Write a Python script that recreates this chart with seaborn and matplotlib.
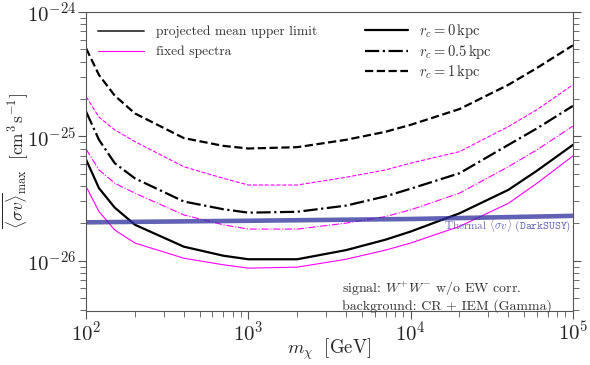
import numpy as np
import pandas as pd
import matplotlib
matplotlib.use('Agg')
import matplotlib.pyplot as plt
import seaborn as sns
from matplotlib.lines import Line2D

# Values
mass = [100, 120, 150, 200, 400, 700, 1000, 2000, 4000, 7000, 10000, 20000, 40000, 60000, 100000]

limit_rc0 = [6.5e-26, 3.84e-26, 2.68e-26, 1.95e-26, 1.30e-26, 1.10e-26, 1.03e-26,
             1.03e-26, 1.22e-26, 1.48e-26, 1.72e-26, 2.41e-26, 3.72e-26, 5.3e-26, 8.55e-26]
limit_rc05 = [1.58e-25, 9.4e-26, 6.1e-26, 4.6e-26, 3.0e-26, 2.6e-26, 2.44e-26,
              2.48e-26, 2.78e-26, 3.3e-26, 3.8e-26, 5.06e-26, 8.55e-26, 1.16e-25, 1.76e-25]
limit_rc1 = [5.1e-25, 3.12e-25, 2.13e-25, 1.53e-25, 9.7e-26, 8.4e-26, 8.0e-26,
             8.2e-26, 9.4e-26, 1.09e-25, 1.24e-25, 1.66e-25, 2.6e-25, 3.55e-25, 5.4e-25]

fixed_rc0 = [3.95e-26, 2.49e-26, 1.77e-26, 1.39e-26, 1.05e-26, 9.3e-27, 8.74e-27,
             8.9e-27, 1.03e-26, 1.22e-26, 1.39e-26, 1.89e-26, 2.9e-26, 4.2e-26, 6.97e-26]
fixed_rc05 = [7.9e-26, 5.38e-26, 4.21e-26, 3.5e-26, 2.34e-26, 1.95e-26, 1.8e-26,
              1.8e-26, 2.01e-26, 2.27e-26, 2.57e-26, 3.5e-26, 5.71e-26, 7.8e-26, 1.21e-25]
fixed_rc1 = [2.09e-25, 1.43e-25, 1.13e-25, 9.08e-26, 5.71e-26, 4.61e-26, 4.07e-26,
             4.07e-26, 4.7e-26, 5.38e-26, 6.1e-26, 7.55e-26, 1.2e-25, 1.64e-25, 2.6e-25]

thermal_mass = [1e2, 1e3, 1e4, 1e5]
thermal_sv = [2.04e-26, 2.1e-26, 2.17e-26, 2.3e-26]

x_ticks = [1e2, 1e3, 1e4, 1e5]
y_ticks = [1e-26, 1e-25, 1e-24]

rc_labels = [r'$r_c = 0\,\mathrm{kpc}$', r'$r_c = 0.5\,\mathrm{kpc}$', r'$r_c = 1\,\mathrm{kpc}$']

sns.set_style('white')
plt.rcParams['font.family'] = 'serif'
plt.rcParams['font.serif'] = ['cmr10', 'DejaVu Serif']
plt.rcParams['mathtext.fontset'] = 'cm'
plt.rcParams['axes.formatter.use_mathtext'] = True
plt.rcParams['text.color'] = '#333333'

fig = plt.figure(figsize=(5.9, 3.65), dpi=100)
ax = fig.add_axes([0.146, 0.149, 0.825, 0.818])

styles = ['-', '-.', '--']
limits = [limit_rc0, limit_rc05, limit_rc1]
fixed = [fixed_rc0, fixed_rc05, fixed_rc1]

for ls, lim, fx in zip(styles, limits, fixed):
    df = pd.DataFrame({'mass': mass, 'limit': lim, 'fixed': fx})
    sns.lineplot(data=df, x='mass', y='fixed', ax=ax, color='magenta',
                 linestyle=ls, linewidth=0.8)
    sns.lineplot(data=df, x='mass', y='limit', ax=ax, color='black',
                 linestyle=ls, linewidth=1.6)

th = pd.DataFrame({'mass': thermal_mass, 'sv': thermal_sv})
sns.lineplot(data=th, x='mass', y='sv', ax=ax, color='#2e2e9c', alpha=0.75, linewidth=3.3)
ax.text(9.8e4, 1.95e-26, r'Thermal $\langle\sigma v\rangle$ $(\mathtt{DarkSUSY})$',
        ha='right', va='center', fontsize=8, color='#6464b8')

ax.set_xscale('log')
ax.set_yscale('log')
ax.set_xticks(x_ticks)
ax.set_yticks(y_ticks)
ax.set_xlim(1e2, 1e5)
ax.set_ylim(10**-26.4, 1e-24)

ax.set_xlabel(r'$m_\chi\ \ [\mathrm{GeV}]$', fontsize=13.5)
ax.xaxis.set_label_coords(0.5, -0.088)
ax.set_ylabel(r'$\overline{\langle\sigma v\rangle}_\mathrm{max}\ \ [\mathrm{cm}^3\,\mathrm{s}^{-1}]$',
              fontsize=12.5)
ax.yaxis.set_label_coords(-0.114, 0.5)

for side in ['left', 'bottom', 'right', 'top']:
    ax.spines[side].set_color('#555555')
    ax.spines[side].set_linewidth(0.8)
ax.tick_params(which='both', direction='out', left=True, bottom=True, right=True,
               top=False, color='#555555')
ax.tick_params(which='major', length=6, labelsize=15, pad=1)
ax.tick_params(which='minor', length=4)

h1 = [Line2D([], [], color='#444444', lw=1.4), Line2D([], [], color='magenta', lw=0.8)]
leg1 = ax.legend(h1, ['projected mean upper limit', 'fixed spectra'], loc='upper left',
                 bbox_to_anchor=(0.0, 0.995), frameon=False, fontsize=9.7,
                 handlelength=3.4, handletextpad=0.9, labelspacing=0.55)
ax.add_artist(leg1)

h2 = [Line2D([], [], color='black', lw=1.6, ls=s) for s in styles]
ax.legend(h2, rc_labels, loc='upper left', bbox_to_anchor=(0.545, 1.01), frameon=False,
          fontsize=10.5, handlelength=3.0, handletextpad=0.7, labelspacing=0.18)

ax.text(0.525, -0.008, 'signal: $W^{+}W^{-}$ w/o EW corr.\nbackground: CR + IEM (Gamma)',
        transform=ax.transAxes, ha='left', va='bottom', fontsize=10, linespacing=1.25)

fig.savefig('out.png', dpi=100)
